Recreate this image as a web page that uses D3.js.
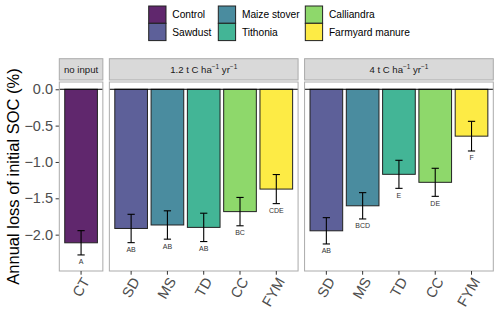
<!DOCTYPE html>
<html><head><meta charset="utf-8">
<script src="https://cdn.jsdelivr.net/npm/d3@7"></script>
<style>body{margin:0;background:#fff}svg{display:block;font-family:"Liberation Sans",Arial,sans-serif}</style>
</head><body><div id="chart"></div>
<script>
// ---- data ----
const panels = ["no input", "1.2", "4"];
const treatments = ["CT","SD","MS","TD","CC","FYM","SD","MS","TD","CC","FYM"];
const panelOf   = ["no input","1.2","1.2","1.2","1.2","1.2","4","4","4","4","4"];
const means     = [-2.112,-1.915,-1.867,-1.900,-1.683,-1.373,-1.947,-1.603,-1.170,-1.280,-0.645];
const se        = [0.167,0.195,0.195,0.195,0.195,0.200,0.181,0.181,0.193,0.193,0.204];
const letters   = ["A","AB","AB","AB","BC","CDE","AB","BCD","E","DE","F"];
const materials = ["Control","Sawdust","Maize stover","Tithonia","Calliandra","Farmyard manure"];
const matCodes  = ["CT","SD","MS","TD","CC","FYM"];
const yTicks    = [0,-0.5,-1.0,-1.5,-2.0];

const W = 500, H = 315;
const svg = d3.select("#chart").append("svg").attr("width", W).attr("height", H);

const colorScale = d3.scaleOrdinal().domain(matCodes)
  .range(["#440154","#414487","#2A788E","#22A884","#7AD151","#FDE725"]);

// layout
const plotLeft = 59.3, plotRight = 493.3, gap = 6.5;
const panelTop = 82, panelBottom = 271, stripTop = 58.7, stripBottom = 80;
const counts = panels.map(p => panelOf.filter(q => q === p).length);
const units = counts.map(n => n + 0.2);
const unit = (plotRight - plotLeft - gap * (panels.length - 1)) / d3.sum(units);
let cx = plotLeft;
const panelX = panels.map((p, i) => { const x0 = cx; cx += units[i] * unit + gap; return [x0, x0 + units[i] * unit]; });

const y = d3.scaleLinear().domain([-2.5, 0.1]).range([panelBottom, panelTop]);

// y axis
const yAxis = svg.append("g").attr("transform", `translate(${plotLeft},0)`)
  .call(d3.axisLeft(y).tickValues(yTicks).tickFormat(d3.format(".1f")).tickSize(3.7).tickPadding(2.6));
yAxis.select(".domain").remove();
yAxis.selectAll("line").attr("stroke", "#333").attr("stroke-width", 1);
yAxis.selectAll("text").attr("fill", "#4d4d4d").style("font-size", "14.5px").attr("font-family", "Liberation Sans, Arial, sans-serif");

svg.append("text").attr("transform", `translate(19,${(panelTop + panelBottom) / 2}) rotate(-90)`)
  .attr("text-anchor", "middle").style("font-size", "16.5px").attr("fill", "#000")
  .text("Annual loss of initial SOC (%)");

panels.forEach((p, pi) => {
  const [x0, x1] = panelX[pi];
  const idx = d3.range(treatments.length).filter(i => panelOf[i] === p);
  const x = d3.scaleBand().domain(idx.map(String)).range([x0, x1]).paddingInner(0.1).paddingOuter(0.15);
  const g = svg.append("g");

  // strip
  g.append("rect").attr("x", x0).attr("y", stripTop).attr("width", x1 - x0).attr("height", stripBottom - stripTop)
    .attr("fill", "#d9d9d9").attr("stroke", "#ababab").attr("stroke-width", 1);
  const st = g.append("text").attr("x", (x0 + x1) / 2).attr("y", (stripTop + stripBottom) / 2 + 3.4)
    .attr("text-anchor", "middle").style("font-size", "9.6px").attr("fill", "#1a1a1a");
  if (p === "no input") st.text("no input");
  else {
    st.append("tspan").text(p + " t C  ha");
    st.append("tspan").attr("dy", -3.5).style("font-size", "6.5px").text("\u22121");
    st.append("tspan").attr("dy", 3.5).text(" yr");
    st.append("tspan").attr("dy", -3.5).style("font-size", "6.5px").text("\u22121");
  }

  // panel background
  g.append("rect").attr("x", x0).attr("y", panelTop).attr("width", x1 - x0).attr("height", panelBottom - panelTop)
    .attr("fill", "#fff");

  // bars
  g.selectAll("rect.bar").data(idx).join("rect").attr("class", "bar")
    .attr("x", i => x(String(i))).attr("width", x.bandwidth())
    .attr("y", y(0)).attr("height", i => y(means[i]) - y(0))
    .attr("fill", i => colorScale(treatments[i])).attr("fill-opacity", 0.85)
    .attr("stroke", "#222").attr("stroke-width", 1);

  // error bars
  const cap = x.step() * 0.1;
  idx.forEach(i => {
    const c = x(String(i)) + x.bandwidth() / 2;
    const yt = y(means[i] + se[i]), yb = y(means[i] - se[i]);
    g.append("line").attr("x1", c).attr("x2", c).attr("y1", yt).attr("y2", yb).attr("stroke", "#000").attr("stroke-width", 1.1);
    g.append("line").attr("x1", c - cap).attr("x2", c + cap).attr("y1", yt).attr("y2", yt).attr("stroke", "#000").attr("stroke-width", 1.1);
    g.append("line").attr("x1", c - cap).attr("x2", c + cap).attr("y1", yb).attr("y2", yb).attr("stroke", "#000").attr("stroke-width", 1.1);
    g.append("text").attr("x", c).attr("y", yb + 7.6).attr("dominant-baseline", "middle")
      .attr("text-anchor", "middle").style("font-size", "7px").attr("fill", "#333").text(letters[i]);
  });

  // zero line
  g.append("line").attr("x1", x0).attr("x2", x1).attr("y1", y(0)).attr("y2", y(0)).attr("stroke", "#000").attr("stroke-width", 1);

  // panel border
  g.append("rect").attr("x", x0).attr("y", panelTop).attr("width", x1 - x0).attr("height", panelBottom - panelTop)
    .attr("fill", "none").attr("stroke", "#ababab").attr("stroke-width", 1);

  // x axis
  const xa = svg.append("g").attr("transform", `translate(0,${panelBottom})`)
    .call(d3.axisBottom(x).tickSize(3.7).tickFormat(i => treatments[+i]));
  xa.select(".domain").remove();
  xa.selectAll("line").attr("stroke", "#333");
  xa.selectAll("text").attr("fill", "#4d4d4d").style("font-size", "14.5px")
    .attr("font-family", "Liberation Sans, Arial, sans-serif")
    .attr("text-anchor", "end").attr("y", 0).attr("dy", "0.72em")
    .attr("transform", "translate(0,5) rotate(-60)");
});

// legend
const legCols = [148.7, 218.3, 305.3];
const keyS = 17.3, legTop = 6;
materials.forEach((m, i) => {
  const col = Math.floor(i / 2), row = i % 2;
  const lx = legCols[col], ly = legTop + row * keyS;
  svg.append("rect").attr("x", lx).attr("y", ly).attr("width", keyS).attr("height", keyS)
    .attr("fill", colorScale(matCodes[i])).attr("fill-opacity", 0.85).attr("stroke", "#222").attr("stroke-width", 1);
  svg.append("text").attr("x", lx + keyS + 6.3).attr("y", ly + keyS / 2 + 3.6)
    .style("font-size", "10.2px").attr("fill", "#000").text(m);
});
</script></body></html>
